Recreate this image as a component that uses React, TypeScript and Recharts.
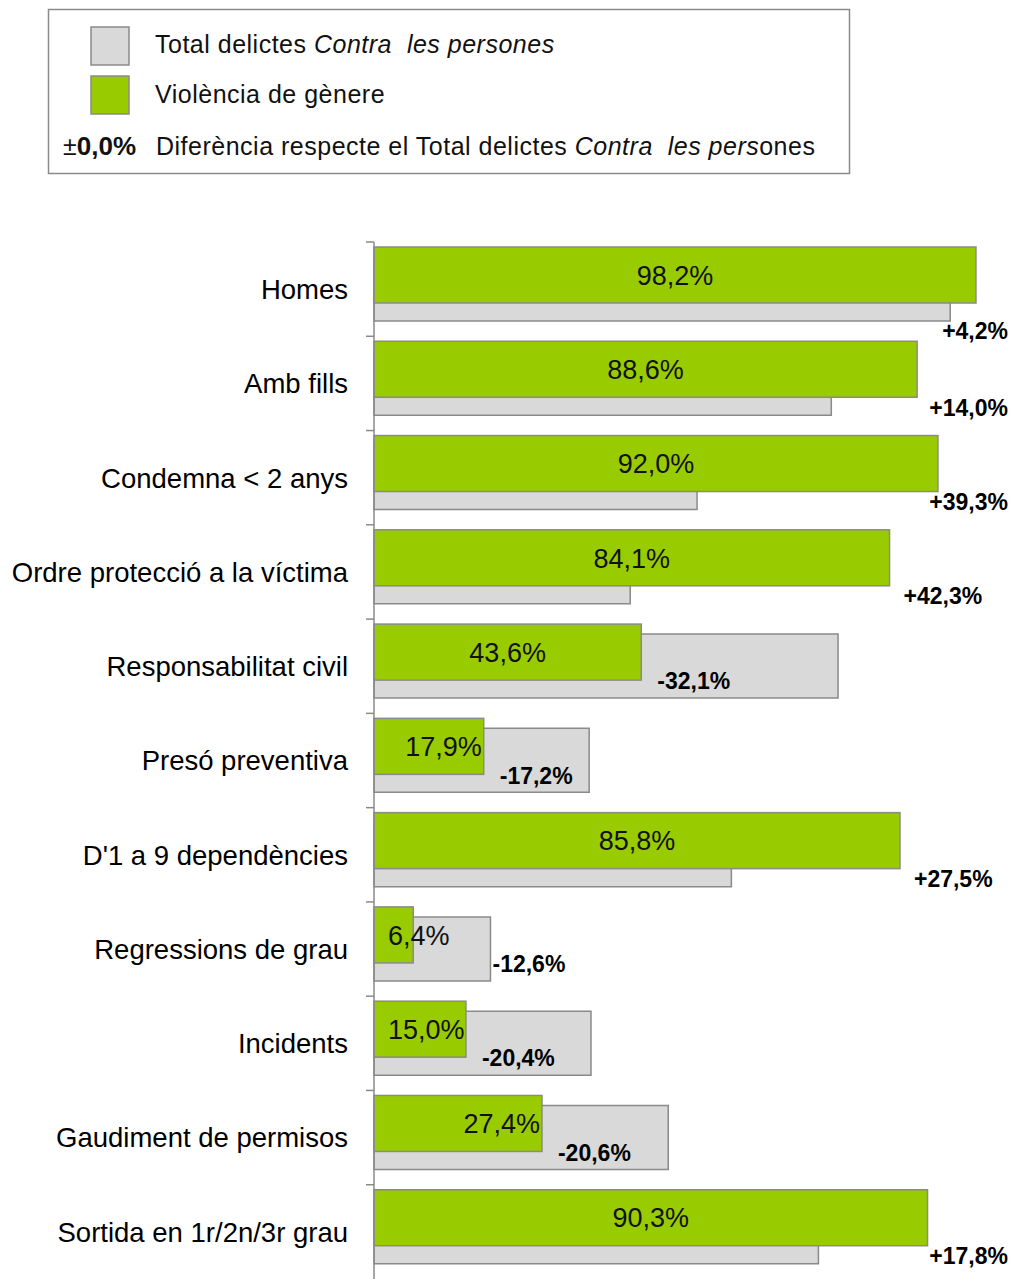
import React from 'react'
import { BarChart, Bar, XAxis, YAxis, LabelList } from 'recharts'

// categories, top to bottom
const categories = [
  'Homes',
  'Amb fills',
  'Condemna < 2 anys',
  'Ordre protecció a la víctima',
  'Responsabilitat civil',
  'Presó preventiva',
  "D'1 a 9 dependències",
  'Regressions de grau',
  'Incidents',
  'Gaudiment de permisos',
  'Sortida en 1r/2n/3r grau',
]

// % Violència de gènere
const violencia = [98.2, 88.6, 92.0, 84.1, 43.6, 17.9, 85.8, 6.4, 15.0, 27.4, 90.3]
// % Total delictes Contra les persones
const total = [94.0, 74.6, 52.7, 41.8, 75.7, 35.1, 58.3, 19.0, 35.4, 48.0, 72.5]
// difference (punts percentuals)
const diferencia = [4.2, 14.0, 39.3, 42.3, -32.1, -17.2, 27.5, -12.6, -20.4, -20.6, 17.8]

const data = categories.map((categoria, i) => ({
  categoria,
  total: total[i],
  violencia: violencia[i],
  diferencia: diferencia[i],
}))

const FONT = '"Liberation Sans", Arial, sans-serif'
const GREEN = '#99cc00'
const GREY = '#d9d9d9'
const EDGE = '#8a8a8a'

const CHART_W = 1016
const CHART_H = 1280
const MARGIN = { top: 242, right: 29, bottom: 1, left: 0 }
const AXIS_W = 374
const BAND = (CHART_H - MARGIN.top - MARGIN.bottom) / categories.length
const RIGHT_LIMIT = 1008
const VALUE_SIZE = 27
const DIFF_SIZE = 23

const fmt = (v: number) => v.toFixed(1).replace('.', ',') + '%'

// rough Arial advance widths, enough to keep labels inside the page
const glyph = (c: string) => {
  if (c === '%') return 0.889
  if (c === ',') return 0.278
  if (c === '+') return 0.584
  if (c === '-') return 0.333
  return 0.556
}
const textWidth = (s: string, size: number) =>
  s.split('').reduce((acc, c) => acc + glyph(c), 0) * size

// where the value label sits inside (or past) the green bar
const valueLabelBox = (x: number, width: number, text: string) => {
  const w = textWidth(text, VALUE_SIZE)
  let cx = x + width / 2
  if (width < 200) {
    cx = Math.max(x + width - 2 - w / 2, x + 14 + w / 2)
  }
  return { cx, right: cx + w / 2 }
}

const CategoryTick = (props: any) => {
  const { x, y, payload } = props
  const top = y - BAND / 2
  return (
    <g>
      <line x1={AXIS_W - 8} x2={AXIS_W} y1={top} y2={top} stroke={EDGE} strokeWidth={1.5} />
      <text x={x} y={y + 27.5 * 0.36} textAnchor="end" fontSize={27.5} fontFamily={FONT} fill="#000">
        {payload.value}
      </text>
    </g>
  )
}

// green bar sits higher and is a bit thinner than the grey one behind it
const GreenShape = (props: any) => {
  const { x, y, width, height } = props
  return (
    <rect
      x={x}
      y={y - 10}
      width={width}
      height={height - 8}
      fill={GREEN}
      stroke={EDGE}
      strokeWidth={1.5}
    />
  )
}

const ValueLabel = (props: any) => {
  const vb = props.viewBox ?? props
  const { x, y, width } = vb
  const text = fmt(props.value)
  const { cx } = valueLabelBox(x, width, text)
  return (
    <text
      x={cx}
      y={y + 18 + VALUE_SIZE * 0.36}
      textAnchor="middle"
      fontSize={VALUE_SIZE}
      fontFamily={FONT}
      fill="#111"
    >
      {text}
    </text>
  )
}

const DiffLabel = (props: any) => {
  const vb = props.viewBox ?? props
  const { x, y, width, height } = vb
  const value = props.value as number
  const row = data[props.index] ?? data.find((d) => d.diferencia === value)!
  const greyEnd = x + (width * row.total) / row.violencia
  const text = (value > 0 ? '+' : '') + fmt(value)
  const w = textWidth(text, DIFF_SIZE)
  let cy = y + height / 2 + (value > 0 ? 24 : 15)
  let left = x + width + (value > 0 ? 14 : 16)
  if (value < 0) {
    const { right } = valueLabelBox(x, width, fmt(row.violencia))
    if (right > x + width + 2) left = greyEnd + 2
  }
  if (left + w > RIGHT_LIMIT) left = RIGHT_LIMIT - w
  // pushed back over the grey bar: drop it below
  if (value > 0 && left < greyEnd) cy = y + height + 10
  return (
    <text x={left} y={cy + DIFF_SIZE * 0.36} fontSize={DIFF_SIZE} fontWeight="bold" fontFamily={FONT} fill="#000">
      {text}
    </text>
  )
}

const LegendBox = () => (
  <svg width={CHART_W} height={180} style={{ position: 'absolute', left: 0, top: 0 }}>
    <rect x={48.5} y={9.5} width={801} height={164} fill="#fff" stroke={EDGE} strokeWidth={1.5} />
    <rect x={91} y={27} width={38} height={38} fill={GREY} stroke={EDGE} strokeWidth={1.5} />
    <rect x={91} y={76} width={38} height={38} fill={GREEN} stroke={EDGE} strokeWidth={1.5} />
    <g fontFamily={FONT} fontSize={25} fill="#111" letterSpacing={0.5} style={{ whiteSpace: 'pre' }}>
      <text x={155} y={53} xmlSpace="preserve">
        {'Total delictes '}
        <tspan fontStyle="italic">{'Contra  les persones'}</tspan>
      </text>
      <text x={155} y={103}>Violència de gènere</text>
      <text x={63} y={155} letterSpacing={0}>
        {'±'}
        <tspan fontWeight="bold" fontSize={26}>{'0,0%'}</tspan>
      </text>
      <text x={156} y={155} xmlSpace="preserve">
        {'Diferència respecte el Total delictes '}
        <tspan fontStyle="italic">{'Contra  les pers'}</tspan>
        {'ones'}
      </text>
    </g>
  </svg>
)

export default function App() {
  return (
    <div
      style={{
        position: 'fixed',
        left: 0,
        top: 0,
        width: CHART_W,
        height: 1279,
        overflow: 'hidden',
        background: '#fff',
      }}
    >
      <BarChart
        width={CHART_W}
        height={CHART_H}
        data={data}
        layout="vertical"
        margin={MARGIN}
        barGap={-64}
        style={{ overflow: 'visible' }}
      >
        <XAxis type="number" domain={[0, 100]} hide />
        <YAxis
          type="category"
          dataKey="categoria"
          width={AXIS_W}
          axisLine={{ stroke: EDGE, strokeWidth: 1.5 }}
          tickLine={false}
          tickSize={0}
          tickMargin={26}
          tick={<CategoryTick />}
          interval={0}
        />
        <Bar
          dataKey="total"
          barSize={64}
          fill={GREY}
          stroke={EDGE}
          strokeWidth={1.5}
          isAnimationActive={false}
        />
        <Bar dataKey="violencia" barSize={64} shape={<GreenShape />} isAnimationActive={false}>
          <LabelList dataKey="violencia" content={<ValueLabel />} />
          <LabelList dataKey="diferencia" content={<DiffLabel />} />
        </Bar>
      </BarChart>
      <LegendBox />
    </div>
  )
}
